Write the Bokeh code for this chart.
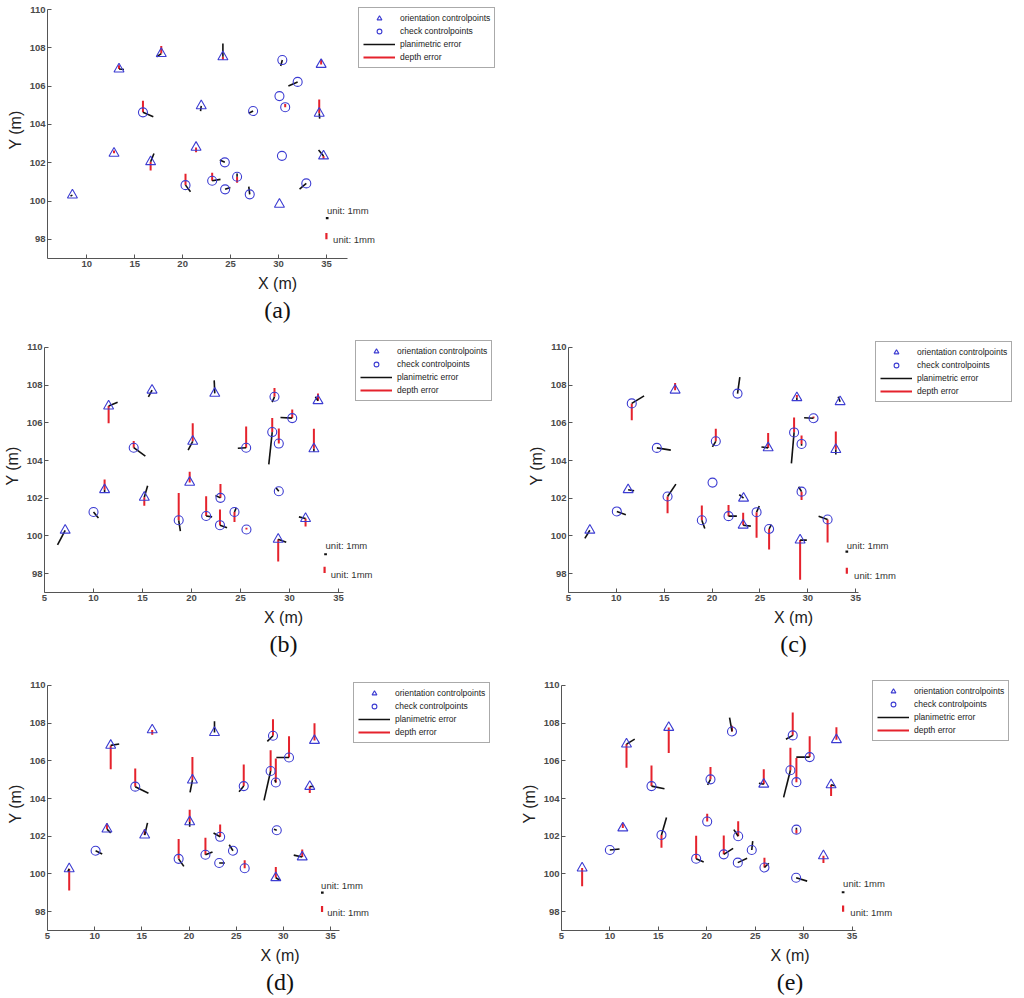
from bokeh.plotting import figure
from bokeh.models import Range1d, FixedTicker, Legend, LegendItem, Label, Title
from bokeh.layouts import column, row
from bokeh.embed import file_html
from bokeh.resources import INLINE

# ---------------- data ----------------
# kind: "T" = orientation controlpoint, "C" = check controlpoint
# dx, dy = planimetric error vector (plot units), dz = depth error (vertical, plot units)

a_x = [13.36, 17.77, 24.20, 30.40, 34.45, 32.00, 30.10, 30.70, 34.25, 15.86, 21.94, 27.35, 12.84,
       16.66, 21.40, 24.40, 30.36, 34.70, 8.50, 20.30, 23.08, 24.43, 25.68, 27.00, 32.90, 30.10]
a_y = [106.89, 107.70, 107.53, 107.36, 107.13, 106.22, 105.48, 104.90, 104.58, 104.63, 104.97, 104.70, 102.49,
       102.05, 102.80, 102.02, 102.36, 102.35, 100.31, 100.83, 101.06, 100.61, 101.27, 100.35, 100.92, 99.83]
a_kind = ["T", "T", "T", "C", "T", "C", "C", "C", "T", "C", "T", "C", "T",
          "T", "T", "C", "C", "T", "T", "C", "C", "C", "C", "C", "C", "T"]
a_dx = [0.52, -0.49, 0.0, -0.17, 0.0, -0.97, 0.0, 0.0, 0.05, 1.08, -0.07, -0.45, 0.0,
        0.35, 0.0, -0.52, 0.0, -0.52, -0.2, 0.52, 0.87, 0.55, 0.0, -0.1, -0.7, 0.0]
a_dy = [-0.02, -0.17, 0.70, -0.31, 0.0, -0.21, 0.0, 0.0, -0.28, -0.23, -0.28, -0.12, 0.0,
        0.43, 0.0, 0.12, 0.0, 0.31, -0.05, -0.35, 0.07, 0.10, 0.17, 0.40, -0.30, 0.0]
a_dz = [0.2, 0.4, -0.15, 0.0, 0.26, 0.0, 0.0, 0.17, 0.72, 0.6, 0.0, 0.0, 0.15,
        -0.45, -0.25, 0.0, 0.0, -0.15, 0.0, 0.6, 0.42, 0.0, -0.32, 0.0, 0.0, 0.0]

b_x = [11.54, 15.97, 22.37, 28.46, 32.90, 30.27, 20.12, 14.10, 25.57, 28.23, 28.90, 32.48, 7.11,
       10.00, 11.13, 15.18, 18.69, 19.81, 21.49, 22.95, 22.90, 24.38, 25.60, 28.90, 28.84, 31.63]
b_y = [106.89, 107.73, 107.56, 107.38, 107.17, 106.25, 105.02, 104.68, 104.68, 105.51, 104.90, 104.62, 100.30,
       101.27, 102.45, 102.05, 100.83, 102.84, 101.06, 102.02, 100.57, 101.27, 100.34, 102.37, 99.82, 100.92]
b_kind = ["T", "T", "T", "C", "T", "C", "T", "C", "C", "C", "C", "T", "T",
          "C", "T", "T", "C", "T", "C", "C", "C", "C", "C", "C", "T", "T"]
b_dx = [0.92, -0.37, -0.06, -0.24, -0.27, -1.20, -0.47, 1.19, -0.85, -0.35, 0.0, 0.0, -0.78,
        0.50, 0.0, 0.34, 0.17, 0.0, 0.61, -0.51, 0.72, 0.17, 0.0, -0.27, 0.82, -0.68]
b_dy = [0.20, -0.35, 0.69, -0.28, 0.21, 0.03, -0.47, -0.45, -0.03, -1.71, 0.0, -0.16, -0.78,
        -0.32, -0.17, 0.61, -0.57, 0.0, -0.05, 0.12, -0.14, 0.21, 0.0, 0.17, -0.16, 0.09]
b_dz = [-0.91, 0.0, 0.0, 0.47, 0.38, 0.45, 0.96, 0.35, 1.13, 0.74, 0.80, 1.07, 0.0,
        0.0, 0.55, -0.45, 1.45, 0.56, 1.04, 0.73, 0.83, -0.53, 0.10, 0.0, -1.17, -0.42]

c_x = [11.61, 16.14, 22.66, 28.86, 33.38, 30.60, 20.39, 14.23, 25.86, 28.57, 29.35, 32.93, 7.23,
       10.05, 11.23, 15.35, 20.05, 18.93, 21.72, 23.29, 23.25, 24.65, 25.96, 29.35, 29.20, 32.07]
c_y = [107.03, 107.73, 107.55, 107.33, 107.12, 106.24, 105.02, 104.67, 104.67, 105.49, 104.88, 104.58, 100.30,
       101.30, 102.45, 102.09, 102.83, 100.83, 101.05, 102.00, 100.57, 101.26, 100.37, 102.35, 99.78, 100.87]
c_kind = ["C", "T", "C", "T", "T", "C", "C", "C", "T", "C", "C", "T", "T",
          "C", "T", "C", "C", "C", "C", "T", "T", "C", "C", "C", "T", "C"]
c_dx = [1.29, 0.0, 0.24, 0.0, -0.20, -0.98, -0.35, 1.46, -0.70, -0.28, 0.0, 0.0, -0.52,
        0.94, 0.63, 0.87, 0.0, 0.31, 0.87, -0.45, 0.80, 0.28, 0.24, -0.31, 0.70, -0.94]
c_dy = [0.40, 0.0, 0.87, -0.15, 0.26, 0.03, -0.30, -0.12, 0.05, -1.64, -0.10, -0.26, -0.43,
        -0.17, -0.05, 0.66, 0.0, -0.44, 0.0, 0.19, -0.05, 0.33, 0.23, 0.26, 0.0, 0.17]
c_dz = [-0.90, 0.38, 0.0, 0.15, 0.0, 0.10, 0.66, 0.0, 0.79, 0.79, 0.45, 0.96, 0.0,
        0.0, 0.0, -0.88, 0.0, 0.79, 0.59, 0.0, 0.66, -1.36, -1.09, -0.44, -2.10, -1.22]

d_x = [11.70, 16.10, 22.70, 28.90, 33.30, 30.60, 28.65, 29.20, 14.30, 20.36, 25.80, 32.80, 7.30,
       10.10, 11.30, 15.30, 18.90, 20.07, 21.74, 23.30, 23.20, 24.66, 25.90, 29.30, 29.20, 32.00]
d_y = [106.82, 107.64, 107.50, 107.33, 107.08, 106.18, 105.46, 104.85, 104.63, 104.98, 104.66, 104.64, 100.27,
       101.23, 102.38, 102.06, 100.80, 102.76, 101.02, 101.97, 100.58, 101.23, 100.30, 102.32, 99.80, 100.90]
d_kind = ["T", "T", "T", "C", "T", "C", "C", "C", "C", "T", "C", "T", "T",
          "C", "T", "T", "C", "T", "C", "C", "C", "C", "C", "C", "T", "T"]
d_dx = [0.90, 0.0, 0.0, -0.60, 0.0, -1.34, -0.70, -0.10, 1.40, -0.25, -0.50, 0.40, -0.15,
        0.70, 0.40, 0.30, 0.55, 0.0, 0.75, -0.70, 0.60, -0.40, 0.0, -0.30, 0.40, -0.90]
d_dy = [0.07, 0.0, 0.60, -0.30, 0.0, 0.0, -1.56, 0.15, -0.35, -0.65, -0.30, 0.0, -0.15,
        -0.17, -0.20, 0.65, -0.40, -0.25, 0.15, 0.20, 0.0, 0.32, 0.0, 0.05, -0.12, 0.10]
d_dz = [-1.27, -0.25, 0.0, 0.87, 0.92, 1.12, 1.10, 1.28, 0.97, 1.22, 1.15, -0.35, -1.15,
        0.0, 0.30, 0.30, 1.05, 0.64, 0.90, 0.65, 0.0, 0.0, 0.42, 0.0, 0.57, 0.40]

e_x = [11.71, 16.07, 22.60, 28.87, 33.38, 30.62, 28.63, 29.25, 14.29, 20.38, 25.88, 32.83, 7.13,
       9.99, 11.33, 15.32, 20.04, 18.90, 21.75, 23.24, 23.20, 24.64, 25.95, 29.25, 29.22, 32.04]
e_y = [106.89, 107.77, 107.56, 107.35, 107.12, 106.20, 105.50, 104.87, 104.66, 105.02, 104.76, 104.73, 100.31,
       101.27, 102.44, 102.07, 102.78, 100.81, 101.04, 102.00, 100.60, 101.27, 100.34, 102.35, 99.80, 100.96]
e_kind = ["T", "T", "C", "C", "T", "C", "C", "C", "C", "C", "T", "T", "T",
          "C", "T", "C", "C", "C", "C", "C", "C", "C", "C", "C", "C", "T"]
e_dx = [0.85, 0.0, -0.25, -0.70, 0.0, -1.38, -0.70, 0.0, 1.34, -0.30, -0.50, 0.40, 0.0,
        1.00, 0.0, 0.52, 0.0, 0.78, 0.97, -0.45, 0.96, 0.10, 0.45, 0.0, 1.14, 0.0]
e_dy = [0.26, 0.0, 0.73, -0.20, 0.0, 0.0, -1.44, 0.0, -0.14, -0.30, 0.05, -0.05, 0.0,
        0.05, 0.0, 0.93, 0.0, -0.17, 0.32, 0.35, 0.23, 0.47, 0.23, 0.10, -0.18, 0.0]
e_dz = [-1.26, -1.35, 0.30, 1.22, 0.66, 1.10, 1.20, 1.28, 1.10, 0.65, 0.80, -0.60, -0.96,
        0.0, 0.25, -0.68, 0.42, 1.22, 1.00, 0.80, 0.0, 0.0, 0.52, -0.21, 0.0, -0.38]

# unit keys: [x_black, y_black, x_red, y_red, x_text1, y_text1, x_text2, y_text2]
a_unit = [35.08, 99.11, 35.00, 98.17, 35.05, 99.49, 35.70, 97.97]
b_unit = [33.67, 99.03, 33.57, 98.20, 33.67, 99.49, 34.20, 97.98]
c_unit = [34.08, 99.17, 34.08, 98.15, 34.08, 99.48, 34.84, 97.90]
d_unit = [34.13, 99.01, 34.10, 98.14, 34.00, 99.41, 34.66, 97.93]
e_unit = [34.07, 99.03, 34.07, 98.16, 34.07, 99.47, 34.82, 97.95]

y_ticks = [98, 100, 102, 104, 106, 108, 110]
legend_labels = ["orientation controlpoints", "check controlpoints", "planimetric error", "depth error"]
unit_text = "unit: 1mm"

BLUE = "#3c3cd2"
RED = "#e5222c"
BLACK = "#111111"
AX = "#555555"
SANS = "Liberation Sans"
EXT = 8          # px of empty frame kept above the 110 tick (room for the legend)
LEG_H = 59       # legend box height: 2*padding + 4 rows of 12 + 3 gaps of 1


def panel(caption, xs, ys, kinds, dxs, dys, dzs, unit, x_axis, xticks,
          bl, axis_px, frame_px, br, bt, fh, bb, leg_x, leg_dtop):
    # the frame is wider/taller than the drawn axes so that legend and unit keys fit inside it
    x0, x1 = x_axis
    x_end = x0 + (x1 - x0) * frame_px / axis_px
    y_end = 110 + 13.0 * EXT / fh
    p = figure(width=bl + frame_px + br, height=bt + fh + bb,
               x_range=Range1d(x0, x_end), y_range=Range1d(97, y_end),
               output_backend="svg", toolbar_location=None,
               min_border_left=bl, min_border_right=br,
               min_border_top=bt - EXT, min_border_bottom=bb)
    p.outline_line_color = None
    p.grid.visible = False
    p.xaxis.ticker = FixedTicker(ticks=xticks)
    p.yaxis.ticker = FixedTicker(ticks=y_ticks)
    p.xaxis.bounds = (x0, x1)
    p.yaxis.bounds = (97, 110)
    p.xaxis.axis_label = "X (m)"
    p.yaxis.axis_label = "Y (m)"
    for ax in (p.xaxis[0], p.yaxis[0]):
        ax.axis_line_color = AX
        ax.major_tick_line_color = AX
        ax.major_tick_in = 4
        ax.major_tick_out = 0
        ax.minor_tick_in = 0
        ax.minor_tick_out = 0
        ax.major_label_text_font = SANS
        ax.major_label_text_font_size = "9.5px"
        ax.major_label_text_font_style = "bold"
        ax.major_label_text_color = "#4a4a4a"
        ax.major_label_standoff = 2
        ax.axis_label_text_font = SANS
        ax.axis_label_text_font_size = "16px"
        ax.axis_label_text_font_style = "normal"
        ax.axis_label_text_color = "#222222"
    p.xaxis.axis_label_standoff = 5
    p.yaxis.axis_label_standoff = 3

    # depth errors (red, vertical)
    rx = [x for x, z in zip(xs, dzs) if z != 0]
    ry0 = [y for y, z in zip(ys, dzs) if z != 0]
    ry1 = [y + z for y, z in zip(ys, dzs) if z != 0]
    r_red = p.segment(x0=rx, y0=ry0, x1=rx, y1=ry1, line_color=RED, line_width=2)
    # planimetric errors (black)
    sel = [i for i in range(len(xs)) if dxs[i] != 0 or dys[i] != 0]
    r_blk = p.segment(x0=[xs[i] for i in sel], y0=[ys[i] for i in sel],
                      x1=[xs[i] + dxs[i] for i in sel], y1=[ys[i] + dys[i] for i in sel],
                      line_color=BLACK, line_width=1.6)
    # points
    tx = [x for x, k in zip(xs, kinds) if k == "T"]
    ty = [y for y, k in zip(ys, kinds) if k == "T"]
    cx = [x for x, k in zip(xs, kinds) if k == "C"]
    cy = [y for y, k in zip(ys, kinds) if k == "C"]
    r_tri = p.scatter(tx, ty, marker="triangle", size=10, fill_color=None,
                      line_color=BLUE, line_width=1.1)
    r_cir = p.scatter(cx, cy, marker="circle", size=9, fill_color=None,
                      line_color=BLUE, line_width=1.1)

    # unit keys
    p.segment(x0=[unit[0] - 0.14], y0=[unit[1]], x1=[unit[0] + 0.14], y1=[unit[1]],
              line_color=BLACK, line_width=2.2)
    p.segment(x0=[unit[2]], y0=[unit[3] - 0.16], x1=[unit[2]], y1=[unit[3] + 0.16],
              line_color=RED, line_width=2.2)
    for lx, ly in ((unit[4], unit[5]), (unit[6], unit[7])):
        p.add_layout(Label(x=lx, y=ly, text=unit_text, text_font=SANS, text_font_size="9.5px",
                           text_color="#333333", text_baseline="middle", text_align="left"))

    legend = Legend(items=[LegendItem(label=legend_labels[0], renderers=[r_tri]),
                           LegendItem(label=legend_labels[1], renderers=[r_cir]),
                           LegendItem(label=legend_labels[2], renderers=[r_blk]),
                           LegendItem(label=legend_labels[3], renderers=[r_red])],
                    location=(leg_x, fh - leg_dtop - LEG_H), padding=4, spacing=1, margin=0,
                    label_height=12, glyph_height=12, glyph_width=32, label_standoff=5,
                    label_text_font=SANS, label_text_font_size="8.5px",
                    label_text_color="#222222",
                    border_line_color="#555555", border_line_width=1,
                    background_fill_color="white", background_fill_alpha=1)
    p.add_layout(legend)

    p.add_layout(Title(text=caption, align="center", text_font="Liberation Serif",
                       text_font_size="24px", text_font_style="normal",
                       text_color="#111111", standoff=0), "below")
    return p


xt_a = [10, 15, 20, 25, 30, 35]
xt = [5, 10, 15, 20, 25, 30, 35]

pa = panel("(a)", a_x, a_y, a_kind, a_dx, a_dy, a_dz, a_unit, (5.9, 37.2), xt_a,
           47, 300, 460, 3, 9, 249, 78, 311, 0)
pb = panel("(b)", b_x, b_y, b_kind, b_dx, b_dy, b_dz, b_unit, (5.0, 35.5), xt,
           44, 299, 478, 2, 11, 248, 78, 311, -2)
pc = panel("(c)", c_x, c_y, c_kind, c_dx, c_dy, c_dz, c_unit, (5.0, 35.3), xt,
           44, 290, 450, 2, 8, 248, 81, 307, -1)
pd = panel("(d)", d_x, d_y, d_kind, d_dx, d_dy, d_dz, d_unit, (5.0, 35.95), xt,
           47, 292, 465, 2, 10, 247, 66, 306, 1)
pe = panel("(e)", e_x, e_y, e_kind, e_dx, e_dy, e_dz, e_unit, (5.0, 35.35), xt,
           47, 294, 457, 2, 12, 246, 65, 311, -2)

layout = column(pa, row(pb, pc), row(pd, pe))
open("out.html", "w").write(file_html(layout, INLINE))
